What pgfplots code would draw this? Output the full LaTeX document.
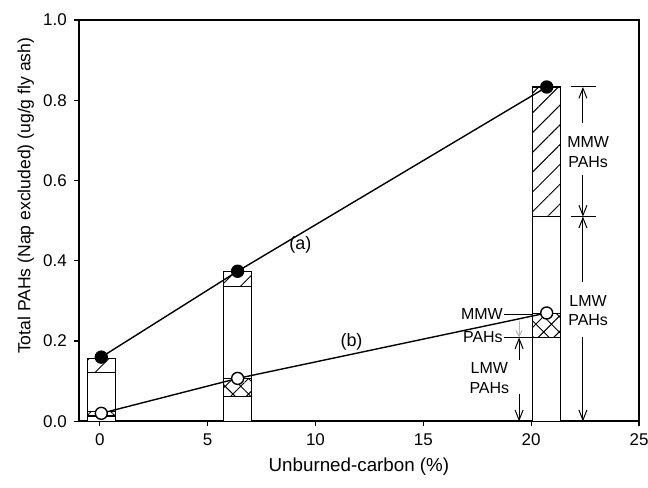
\documentclass[border=0pt]{standalone}
\usepackage{fontspec}
\setmainfont{Liberation Sans}
\usepackage{pgfplots}
\pgfplotsset{compat=1.18}
\usetikzlibrary{arrows.meta,patterns.meta,calc}

\pgfplotstableread{
x     la    ta    lb    tb
0.07  0.122 0.157 0.013 0.024
6.39  0.336 0.373 0.062 0.107
20.72 0.510 0.833 0.209 0.269
}\bars

\begin{document}
\begin{tikzpicture}
\begin{axis}[
  name=ax,
  scale only axis, width=280.5pt, height=201pt,
  xmin=-0.97, xmax=25, ymin=0, ymax=1,
  xtick={0,5,...,25}, ytick={0,0.2,...,1.0},
  xtick pos=bottom, ytick pos=left, tick align=outside,
  major tick length=2.5pt,
  every tick/.style={black, line width=0.6pt},
  axis line style={line width=1pt},
  yticklabel style={/pgf/number format/.cd, fixed, fixed zerofill, precision=1, assume math mode=true},
  xticklabel style={/pgf/number format/assume math mode=true},
  tick label style={font=\fontsize{8.5}{9}\selectfont},
  xlabel={Unburned-carbon (\%)},
  ylabel={Total PAHs (Nap excluded) (ug/g fly ash)},
  every axis x label/.style={at={(axis description cs:0.5,-0.114)}, anchor=center, font=\fontsize{9.4}{11}\selectfont},
  every axis y label/.style={at={(axis description cs:-0.0945,0.562)}, anchor=center, rotate=90, font=\fontsize{8.8}{10}\selectfont},
  mybar/.style={ybar, bar width=1.3, bar shift=0pt, draw=black, line width=0.7pt},
  clip=false,
]
\addplot[mybar, pattern={Lines[angle=45,distance=7pt,line width=0.5pt]}] table[x=x,y=ta] {\bars};
\addplot[mybar, fill=white] table[x=x,y=la] {\bars};
\addplot[mybar, pattern={Hatch[angle=45,distance=5.5pt,line width=0.5pt]}] table[x=x,y=tb] {\bars};
\addplot[mybar, fill=white] table[x=x,y=lb] {\bars};

\addplot[black, line width=0.7pt, mark=*, mark size=3pt, mark options={fill=black, solid}]
  coordinates {(0.07,0.160) (6.39,0.374) (20.72,0.833)};
\addplot[black, line width=0.7pt, mark=*, mark size=3pt, mark options={fill=white, solid}]
  coordinates {(0.07,0.020) (6.39,0.107) (20.72,0.270)};

\node[font=\fontsize{9}{10}\selectfont] at (axis cs:9.3,0.44) {(a)};
\node[font=\fontsize{9}{10}\selectfont] at (axis cs:11.67,0.197) {(b)};

% right-hand annotations
\begin{scope}[line width=0.5pt, font=\fontsize{8}{10}\selectfont]
\draw (axis cs:21.85,0.833) -- (axis cs:23.0,0.833);
\draw (axis cs:21.85,0.510) -- (axis cs:23.0,0.510);
\draw[-{Straight Barb[length=5pt,width=4pt]}] (axis cs:22.4,0.744) -- (axis cs:22.4,0.833);
\draw[-{Straight Barb[length=5pt,width=4pt]}] (axis cs:22.4,0.614) -- (axis cs:22.4,0.510);
\draw[-{Straight Barb[length=5pt,width=4pt]}] (axis cs:22.4,0.346) -- (axis cs:22.4,0.510);
\draw[-{Straight Barb[length=5pt,width=4pt]}] (axis cs:22.4,0.209) -- (axis cs:22.4,0.0);
\node[align=center] at (axis cs:22.64,0.672) {MMW\\PAHs};
\node[align=center] at (axis cs:22.64,0.276) {LMW\\PAHs};
% left-hand annotations
\draw (axis cs:18.75,0.267) -- (axis cs:20.05,0.267);
\draw (axis cs:18.75,0.209) -- (axis cs:20.05,0.209);
\node[anchor=east, inner sep=0.5pt] at (axis cs:18.75,0.267) {MMW};
\node[anchor=east, inner sep=0.5pt] at (axis cs:18.75,0.209) {PAHs};
\draw[gray!60, -{Straight Barb[length=3pt,width=3pt]}] (axis cs:19.44,0.25) -- (axis cs:19.44,0.209);
\draw[-{Straight Barb[length=5pt,width=4pt]}] (axis cs:19.44,0.154) -- (axis cs:19.44,0.209);
\node[align=center] at (axis cs:18.06,0.107) {LMW\\PAHs};
\draw[-{Straight Barb[length=5pt,width=4pt]}] (axis cs:19.44,0.067) -- (axis cs:19.44,0.0);
\end{scope}
\coordinate (ll) at (rel axis cs:0,0);
\coordinate (ur) at (rel axis cs:1,1);
\end{axis}
\pgfresetboundingbox
\path ($(ll)+(-39.5pt,-33pt)$) rectangle ($(ur)+(4.5pt,10pt)$);
\end{tikzpicture}
\end{document}
